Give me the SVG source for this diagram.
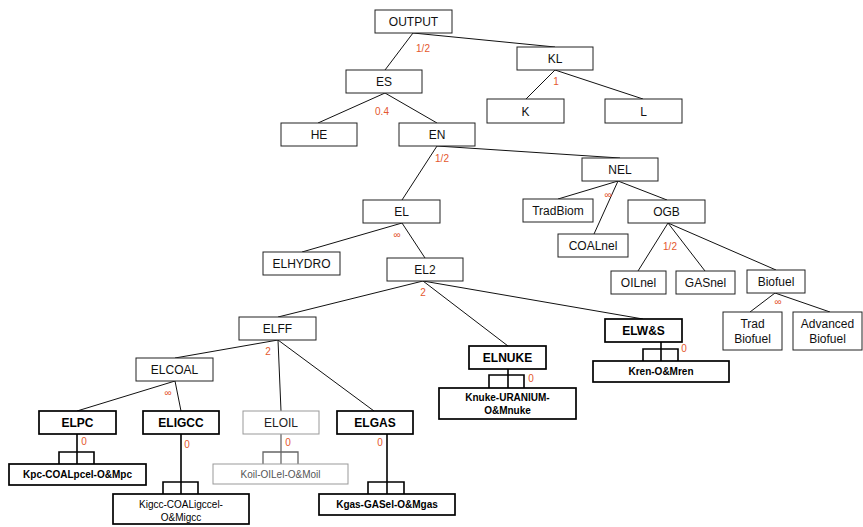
<svg xmlns="http://www.w3.org/2000/svg" width="863" height="527" viewBox="0 0 863 527">
<style>
text{font-family:"Liberation Sans",Arial,sans-serif;font-size:12px;text-anchor:middle;fill:#111}
.n rect{fill:#fff;stroke:#222;stroke-width:1}
.b rect{fill:#fff;stroke:#000;stroke-width:1.7}
.b text{font-weight:bold;fill:#000}
.g rect{fill:#fff;stroke:#999;stroke-width:1}
.g text{fill:#555}
.s text{font-size:10px}
.w text{font-weight:normal}
#conn line,#conn polyline{stroke:#111;stroke-width:1;fill:none}
#conn .k{stroke:#000;stroke-width:1.6}
#conn .gk{stroke:#666;stroke-width:1.3}
.lbl{fill:#E4572E;font-size:10px}
</style>
<rect width="863" height="527" fill="#fff"/>
<g id="conn">
<line x1="413" y1="33" x2="385" y2="70"/>
<line x1="413" y1="33" x2="555" y2="47"/>
<line x1="555" y1="70" x2="526" y2="99"/>
<line x1="555" y1="70" x2="643" y2="99"/>
<line x1="385" y1="93" x2="318" y2="123"/>
<line x1="385" y1="93" x2="437" y2="123"/>
<line x1="437" y1="146" x2="402" y2="200"/>
<line x1="437" y1="146" x2="620" y2="158"/>
<line x1="618" y1="181" x2="558" y2="199"/>
<line x1="618" y1="181" x2="594" y2="234"/>
<line x1="618" y1="181" x2="667" y2="200"/>
<line x1="668" y1="223" x2="638" y2="271"/>
<line x1="668" y1="223" x2="705" y2="271"/>
<line x1="668" y1="223" x2="776" y2="270"/>
<line x1="775" y1="293" x2="750" y2="312"/>
<line x1="775" y1="293" x2="830" y2="312"/>
<line x1="402" y1="223" x2="302" y2="252"/>
<line x1="402" y1="223" x2="425" y2="258"/>
<line x1="423" y1="281" x2="278" y2="317"/>
<line x1="423" y1="281" x2="508" y2="346"/>
<line x1="423" y1="281" x2="643" y2="319"/>
<line x1="278" y1="340" x2="175" y2="358"/>
<line x1="278" y1="340" x2="281" y2="411"/>
<line x1="278" y1="340" x2="374" y2="411"/>
<line x1="175" y1="381" x2="77" y2="411"/>
<line x1="175" y1="381" x2="181" y2="411"/>
<line class="k" x1="77" y1="434" x2="77" y2="464"/>
<polyline class="k" points="59,464 59,452 94,452 94,464"/>
<line class="k" x1="181" y1="434" x2="181" y2="494"/>
<polyline class="k" points="163,494 163,482 198,482 198,494"/>
<line class="gk" x1="281" y1="434" x2="281" y2="464"/>
<polyline class="gk" points="263,464 263,452 298,452 298,464"/>
<line class="k" x1="387" y1="434" x2="387" y2="494"/>
<polyline class="k" points="368,494 368,482 404,482 404,494"/>
<line class="k" x1="508" y1="369" x2="508" y2="388"/>
<polyline class="k" points="489,388 489,375 524,375 524,388"/>
<line class="k" x1="661" y1="342" x2="661" y2="361"/>
<polyline class="k" points="643,361 643,349 678,349 678,361"/>
</g>
<g id="labels">
<text class="lbl" x="423" y="52">1/2</text>
<text class="lbl" x="556" y="85">1</text>
<text class="lbl" x="382" y="115">0.4</text>
<text class="lbl" x="442" y="162">1/2</text>
<text class="lbl" x="397" y="238">∞</text>
<text class="lbl" x="608" y="198">∞</text>
<text class="lbl" x="670" y="250">1/2</text>
<text class="lbl" x="778" y="305">∞</text>
<text class="lbl" x="423" y="296">2</text>
<text class="lbl" x="268" y="355">2</text>
<text class="lbl" x="168" y="396">∞</text>
<text class="lbl" x="84" y="445">0</text>
<text class="lbl" x="187" y="448">0</text>
<text class="lbl" x="288" y="446">0</text>
<text class="lbl" x="380" y="446">0</text>
<text class="lbl" x="531" y="382">0</text>
<text class="lbl" x="684" y="352">0</text>
</g>
<g id="OUTPUT" class="n"><rect x="375" y="10" width="77" height="23"/><text x="413.5" y="26">OUTPUT</text></g>
<g id="KL" class="n"><rect x="517" y="47" width="76" height="23"/><text x="555" y="63">KL</text></g>
<g id="ES" class="n"><rect x="346" y="70" width="76" height="23"/><text x="384" y="86">ES</text></g>
<g id="K" class="n"><rect x="487" y="99" width="77" height="24"/><text x="525.5" y="115.5">K</text></g>
<g id="L" class="n"><rect x="605" y="99" width="77" height="24"/><text x="643.5" y="115.5">L</text></g>
<g id="HE" class="n"><rect x="281" y="123" width="76" height="23"/><text x="319" y="139">HE</text></g>
<g id="EN" class="n"><rect x="399" y="123" width="76" height="23"/><text x="437" y="139">EN</text></g>
<g id="NEL" class="n"><rect x="582" y="158" width="76" height="23"/><text x="620" y="174">NEL</text></g>
<g id="TradBiom" class="n"><rect x="523" y="199" width="70" height="23"/><text x="558" y="215">TradBiom</text></g>
<g id="OGB" class="n"><rect x="628" y="200" width="77" height="23"/><text x="666.5" y="216">OGB</text></g>
<g id="COALnel" class="n"><rect x="558" y="234" width="70" height="23"/><text x="593" y="250">COALnel</text></g>
<g id="OILnel" class="n"><rect x="611" y="271" width="55" height="23"/><text x="638.5" y="287">OILnel</text></g>
<g id="GASnel" class="n"><rect x="676" y="271" width="59" height="23"/><text x="705.5" y="287">GASnel</text></g>
<g id="Biofuel" class="n"><rect x="747" y="270" width="58" height="23"/><text x="776" y="286">Biofuel</text></g>
<g id="TradBiofuel" class="n"><rect x="723" y="312" width="59" height="38"/><text x="752.5" y="327.5">Trad</text><text x="752.5" y="342.5">Biofuel</text></g>
<g id="AdvancedBiofuel" class="n"><rect x="793" y="312" width="69" height="38"/><text x="827.5" y="327.5">Advanced</text><text x="827.5" y="342.5">Biofuel</text></g>
<g id="EL" class="n"><rect x="363" y="200" width="77" height="23"/><text x="401.5" y="216">EL</text></g>
<g id="ELHYDRO" class="n"><rect x="263" y="252" width="77" height="23"/><text x="301.5" y="268">ELHYDRO</text></g>
<g id="EL2" class="n"><rect x="387" y="258" width="76" height="23"/><text x="425" y="274">EL2</text></g>
<g id="ELFF" class="n"><rect x="239" y="317" width="77" height="23"/><text x="277.5" y="333">ELFF</text></g>
<g id="ELCOAL" class="n"><rect x="136" y="358" width="77" height="23"/><text x="174.5" y="374">ELCOAL</text></g>
<g id="ELNUKE" class="b"><rect x="469" y="346" width="77" height="23"/><text x="507.5" y="362">ELNUKE</text></g>
<g id="ELWS" class="b"><rect x="605" y="319" width="77" height="23"/><text x="643.5" y="335">ELW&amp;S</text></g>
<g id="ELPC" class="b"><rect x="39" y="411" width="77" height="23"/><text x="77.5" y="427">ELPC</text></g>
<g id="ELIGCC" class="b"><rect x="143" y="411" width="76" height="23"/><text x="181" y="427">ELIGCC</text></g>
<g id="ELOIL" class="g"><rect x="243" y="411" width="76" height="23"/><text x="281" y="427" style="fill:#222">ELOIL</text></g>
<g id="ELGAS" class="b"><rect x="337" y="411" width="76" height="23"/><text x="375" y="427">ELGAS</text></g>
<g id="Kpc" class="b s"><rect x="9" y="464" width="137" height="21"/><text x="77.5" y="478">Kpc-COALpcel-O&amp;Mpc</text></g>
<g id="Kigcc" class="b s w"><rect x="113" y="494" width="136" height="30"/><text x="181" y="507.5">Kigcc-COALigccel-</text><text x="181" y="521">O&amp;Migcc</text></g>
<g id="Koil" class="g s"><rect x="213" y="464" width="135" height="20"/><text x="280.5" y="477.5">Koil-OILel-O&amp;Moil</text></g>
<g id="Kgas" class="b s"><rect x="319" y="494" width="136" height="21"/><text x="387" y="508">Kgas-GASel-O&amp;Mgas</text></g>
<g id="Knuke" class="b s"><rect x="439" y="388" width="137" height="31"/><text x="507.5" y="401">Knuke-URANIUM-</text><text x="507.5" y="414">O&amp;Mnuke</text></g>
<g id="Kren" class="b s"><rect x="593" y="361" width="136" height="21"/><text x="661" y="375">Kren-O&amp;Mren</text></g>
</svg>
